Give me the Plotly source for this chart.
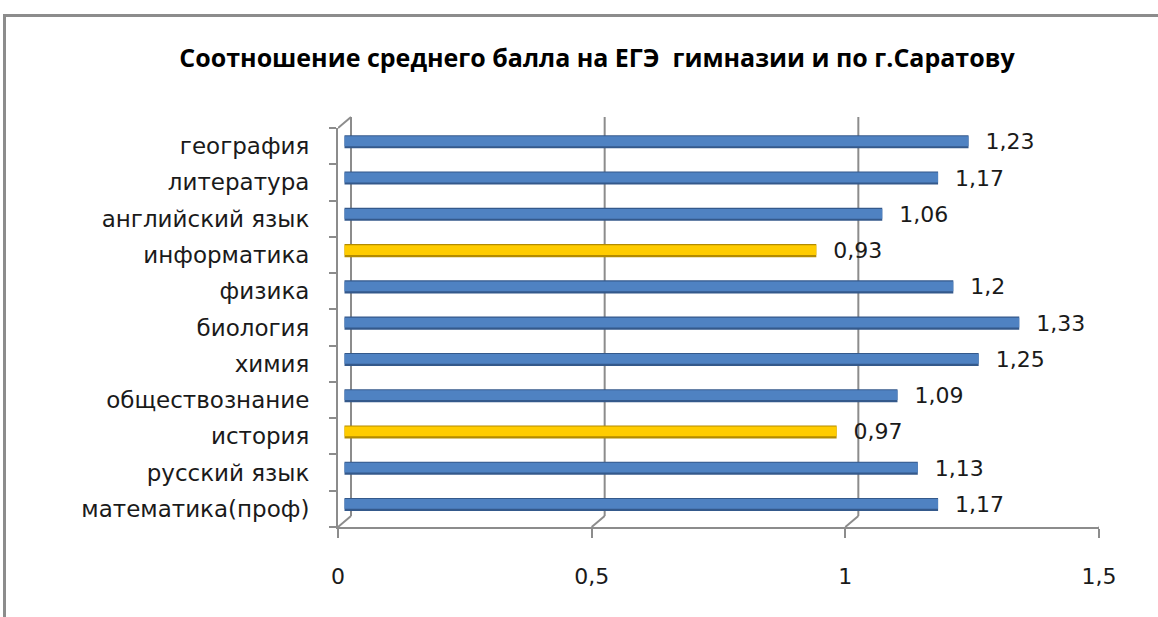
import plotly.graph_objects as go

# ---------------- data ----------------
categories = ["математика(проф)", "русский язык", "история", "обществознание", "химия",
              "биология", "физика", "информатика", "английский язык", "литература", "география"]
values = [1.17, 1.13, 0.97, 1.09, 1.25, 1.33, 1.2, 0.93, 1.06, 1.17, 1.23]
x_ticks = [0, 0.5, 1, 1.5]
x_tick_labels = ["0", "0,5", "1", "1,5"]
title_text = "Соотношение среднего балла на ЕГЭ  гимназии и по г.Саратову"

# ---------------- layout constants ----------------
W, H = 1158, 617
ML, MR, MT, MB = 338, 59, 128, 90
PLOT_W = W - ML - MR
PLOT_H = H - MT - MB
XMIN, XMAX = 0, 1.5
DEPTH_PX_X, DEPTH_PX_Y = 13, 11
dx = DEPTH_PX_X / PLOT_W * (XMAX - XMIN)
dy = DEPTH_PX_Y / PLOT_H
bar_base = dx * 0.5  # bars sit at mid-depth of the 3D floor

BLUE_EDGE, BLUE_FILL = "#34598B", "#4F82C2"
YEL_EDGE, YEL_FILL = "#B38B00", "#FFCC00"
GRID = "#8C8C8C"
FONT = "DejaVu Sans"
FS = 22

edge_colors = [YEL_EDGE if v < 1 else BLUE_EDGE for v in values]
fill_colors = [YEL_FILL if v < 1 else BLUE_FILL for v in values]
labels = ["\u00a0\u00a0" + str(v).replace(".", ",") for v in values]

fig = go.Figure()
# outer (darker) cylinder body
fig.add_trace(go.Bar(
    y=categories, x=values, base=bar_base, orientation="h",
    width=0.36, offset=-0.06,
    marker=dict(color=edge_colors, line=dict(width=0)),
    text=labels, textposition="outside", cliponaxis=False, constraintext="none",
    textfont=dict(family=FONT, size=FS, color="#1A1A1A"),
    hoverinfo="skip", showlegend=False,
))
# lighter body
fig.add_trace(go.Bar(
    y=categories, x=values, base=bar_base, orientation="h",
    width=0.27, offset=0.0,
    marker=dict(color=fill_colors, line=dict(width=0)),
    hoverinfo="skip", showlegend=False,
))

shapes = []
# back-wall gridlines + floor diagonals
for t in x_ticks:
    shapes.append(dict(type="line", xref="x", yref="paper", x0=t + dx, x1=t + dx,
                       y0=dy, y1=1 + dy, line=dict(color=GRID, width=2), layer="below"))
    shapes.append(dict(type="line", xref="x", yref="paper", x0=t, x1=t + dx,
                       y0=0, y1=dy, line=dict(color=GRID, width=2), layer="below"))
# top-left wall diagonal
shapes.append(dict(type="line", xref="x", yref="paper", x0=XMIN, x1=XMIN + dx,
                   y0=1, y1=1 + dy, line=dict(color=GRID, width=2), layer="below"))


def px_x(p):
    return (p - ML) / PLOT_W


def px_y(p):
    return (H - MB - p) / PLOT_H


# outer chart border
shapes.append(dict(type="rect", xref="paper", yref="paper",
                   x0=px_x(4.5), x1=px_x(W + 10), y0=px_y(H + 10), y1=px_y(15.5),
                   line=dict(color="#8C8C8C", width=3), fillcolor="rgba(0,0,0,0)"))

fig.update_layout(
    width=W, height=H,
    margin=dict(l=ML, r=MR, t=MT, b=MB),
    paper_bgcolor="white", plot_bgcolor="white",
    barmode="overlay",
    separators=",.",
    shapes=shapes,
    title=dict(text=f"<b>{title_text}</b>", xref="container", yref="container",
               x=597 / W, y=1 - 58 / H, xanchor="center", yanchor="middle",
               font=dict(family="Open Sans", size=25, color="black")),
    xaxis=dict(range=[XMIN, XMAX], tickvals=x_ticks, ticktext=x_tick_labels,
               showgrid=False, zeroline=False, showline=True, linecolor=GRID, linewidth=2,
               ticks="outside", ticklen=9, tickwidth=2, tickcolor=GRID,
               ticklabelstandoff=20,
               tickfont=dict(family=FONT, size=FS, color="#1A1A1A")),
    yaxis=dict(type="category", categoryorder="array", categoryarray=categories,
               showgrid=False, zeroline=False, showline=True, linecolor=GRID, linewidth=2,
               ticks="outside", ticklen=7, tickwidth=2, tickcolor=GRID, tickson="boundaries",
               ticklabelstandoff=22,
               tickfont=dict(family=FONT, size=23, color="#1A1A1A")),
)

fig.write_html("out.html",
               config={"displayModeBar": False},
               post_script="document.body.style.margin='0';document.body.style.overflow='hidden';")
